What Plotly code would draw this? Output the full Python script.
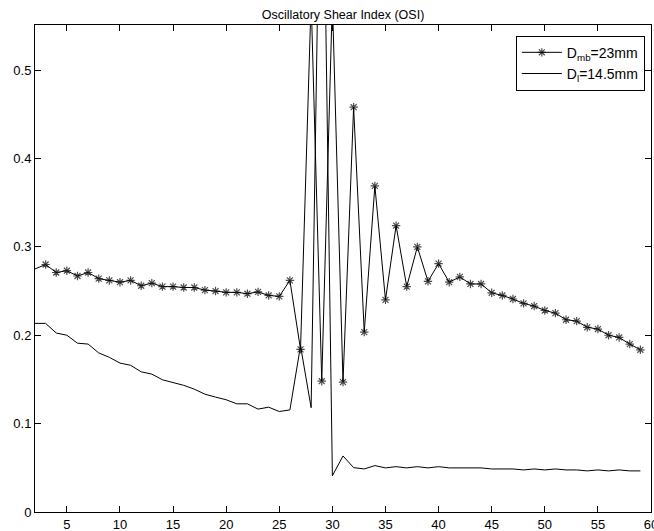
import plotly.graph_objects as go

# Position index along the vessel
positions = list(range(2, 60))

# OSI for the D_mb = 23 mm geometry
osi_dmb = [
    0.275, 0.280, 0.271, 0.273, 0.267, 0.271, 0.264, 0.262, 0.260, 0.262,
    0.256, 0.259, 0.255, 0.255, 0.254, 0.254, 0.251, 0.250, 0.2485, 0.2485,
    0.247, 0.249, 0.245, 0.244, 0.262, 0.184, 0.58, 0.148, 0.58, 0.147,
    0.458, 0.2035, 0.369, 0.240, 0.324, 0.255, 0.300, 0.261, 0.281, 0.260,
    0.266, 0.258, 0.258, 0.248, 0.245, 0.241, 0.236, 0.233, 0.228, 0.225,
    0.2175, 0.216, 0.209, 0.207, 0.200, 0.1975, 0.190, 0.1835,
]

# OSI for the D_l = 14.5 mm geometry
osi_dl = [
    0.2134, 0.2134, 0.2025, 0.200, 0.191, 0.190, 0.180, 0.175, 0.1685, 0.166,
    0.1586, 0.156, 0.1496, 0.1466, 0.1433, 0.139, 0.1333, 0.130, 0.127, 0.1224,
    0.1224, 0.1164, 0.1186, 0.1137, 0.1155, 0.188, 0.118, 0.87, 0.041, 0.0634,
    0.0502, 0.0487, 0.0525, 0.0499, 0.0513, 0.0499, 0.0513, 0.0499, 0.0513, 0.0499,
    0.0499, 0.0499, 0.0499, 0.0487, 0.0487, 0.0487, 0.0476, 0.0487, 0.0476, 0.0487,
    0.0476, 0.0476, 0.0465, 0.0476, 0.0465, 0.0476, 0.0465, 0.0465,
]

series_names = ["D<sub>mb</sub>=23mm", "D<sub>l</sub>=14.5mm"]
x_ticks = [5, 10, 15, 20, 25, 30, 35, 40, 45, 50, 55, 60]
y_ticks = [0, 0.1, 0.2, 0.3, 0.4, 0.5]
y_tick_text = ["0", "0.1", "0.2", "0.3", "0.4", "0.5"]

FONT = "Liberation Sans, Arial, Helvetica, sans-serif"

# the first sample sits on the left axis edge, where no marker is drawn
marker_sizes = [0] + [7] * (len(positions) - 1)

fig = go.Figure()
fig.add_trace(go.Scatter(
    x=positions, y=osi_dmb, name=series_names[0],
    mode="lines+markers",
    line=dict(color="black", width=1),
    marker=dict(symbol="asterisk-open", size=marker_sizes, color="black",
                line=dict(color="black", width=1.2)),
    cliponaxis=True,
))
fig.add_trace(go.Scatter(
    x=positions, y=osi_dl, name=series_names[1],
    mode="lines",
    line=dict(color="black", width=1),
    cliponaxis=True,
))

axis_common = dict(
    showline=True, linecolor="black", linewidth=1, mirror="ticks",
    ticks="inside", ticklen=6, tickwidth=1, tickcolor="black",
    showgrid=False, zeroline=False, ticklabeloverflow="allow",
    automargin=False,
    tickfont=dict(family=FONT, size=13, color="black"),
)

fig.update_xaxes(range=[2, 60], tickvals=x_ticks, **axis_common)
fig.update_yaxes(range=[0, 0.551], tickvals=y_ticks, ticktext=y_tick_text,
                 **axis_common)

fig.update_layout(
    width=654, height=531,
    margin=dict(l=35, r=3, t=25, b=19, autoexpand=False),
    paper_bgcolor="white", plot_bgcolor="white",
    title=dict(text="Oscillatory Shear Index (OSI)", x=0.5245, xanchor="center",
               y=0.973, yanchor="middle",
               font=dict(family=FONT, size=12.5, color="black")),
    font=dict(family=FONT, size=12, color="black"),
    showlegend=True,
    legend=dict(
        x=0.99, xanchor="right", y=0.978, yanchor="top",
        bgcolor="white", bordercolor="black", borderwidth=1,
        font=dict(family=FONT, size=14, color="black"),
        tracegroupgap=0, itemwidth=40,
    ),
)

fig.write_html("out.html")
